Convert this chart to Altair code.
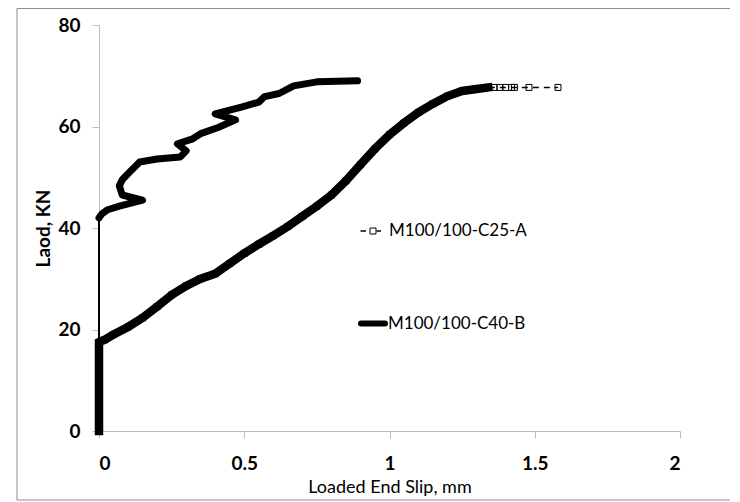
import altair as alt
import pandas as pd

# ---- data ----
series_names = ["M100/100-C25-A", "M100/100-C40-B"]

a_slip = [0, 0, 0.02, 0.05, 0.10, 0.15, 0.20, 0.25, 0.30, 0.35, 0.40, 0.45, 0.50,
          0.55, 0.60, 0.65, 0.70, 0.75, 0.80, 0.85, 0.90, 0.95, 1.00, 1.05, 1.10,
          1.15, 1.20, 1.25, 1.30, 1.34, 1.36, 1.38, 1.40, 1.42, 1.43, 1.48, 1.58]
a_load = [0, 17.5, 18.0, 19.0, 20.5, 22.3, 24.5, 26.8, 28.6, 30.0, 31.0, 33.0, 35.0,
          36.8, 38.5, 40.3, 42.3, 44.3, 46.5, 49.3, 52.5, 55.6, 58.4, 60.7, 62.8,
          64.5, 66.0, 67.0, 67.4, 67.7, 67.7, 67.7, 67.7, 67.7, 67.7, 67.7, 67.7]
A_DENSE_END = 1.34  # up to here the markers overlap into a solid band

b_slip = [0, 0, 0.01, 0.03, 0.07, 0.15, 0.08, 0.07, 0.08, 0.11, 0.14, 0.20, 0.28,
          0.30, 0.27, 0.32, 0.35, 0.41, 0.47, 0.40, 0.49, 0.55, 0.57, 0.62, 0.67,
          0.75, 0.89]
b_load = [0, 42.0, 42.8, 43.6, 44.3, 45.5, 46.5, 48.3, 49.5, 51.3, 53.0, 53.6, 54.0,
          55.2, 56.6, 57.5, 58.6, 59.8, 61.3, 62.5, 63.8, 64.8, 65.9, 66.5, 68.0,
          68.8, 69.0]

x_ticks = [0, 0.5, 1, 1.5, 2]
y_ticks = [0, 20, 40, 60, 80]

df_a = pd.DataFrame({"slip": a_slip, "load": a_load, "i": range(len(a_slip))})
df_b = pd.DataFrame({"slip": b_slip, "load": b_load, "i": range(len(b_slip))})
df_a_dense = df_a[df_a["slip"] <= A_DENSE_END]
df_b_thick = df_b.iloc[1:]

FONT = "Lato"
W, H = 581, 406

x_enc = alt.X("slip:Q", scale=alt.Scale(domain=[0, 2], nice=False),
              axis=alt.Axis(values=x_ticks, format=".1~f", title="Loaded End Slip, mm",
                            labelFont=FONT, labelFontWeight="bold", labelFontSize=19,
                            labelColor="black", labelBaseline="middle", labelPadding=25,
                            titleFont=FONT, titleFontSize=18, titleFontWeight="normal",
                            titleColor="black", titleBaseline="middle", titleY=56,
                            tickSize=7, tickColor="#bdbdbd", domainColor="#bdbdbd",
                            grid=False))
y_enc = alt.Y("load:Q", scale=alt.Scale(domain=[0, 80], nice=False),
              axis=alt.Axis(values=y_ticks, format="d", title="Laod, KN",
                            labelFont=FONT, labelFontWeight="bold", labelFontSize=19,
                            labelColor="black", labelPadding=12,
                            titleFont=FONT, titleFontSize=19, titleFontWeight="bold",
                            titleColor="black", titleX=-56, titleY=H / 2,
                            titleAngle=-90, titleAlign="center", titleBaseline="middle",
                            tickSize=7, tickColor="#bdbdbd", domainColor="#bdbdbd",
                            grid=False))
order = alt.Order("i:Q")

frame = alt.Chart(alt.Data(values=[{}])).mark_rect(
    fill="white", fillOpacity=0, stroke="#8c8c8c", strokeWidth=1
).encode(x=alt.value(-82), x2=alt.value(720), y=alt.value(-16.5), y2=alt.value(475))

a_band = alt.Chart(df_a_dense).mark_line(color="black", strokeWidth=8.5,
                                         strokeCap="square").encode(
    x=x_enc, y=y_enc, order=order)
a_dash = alt.Chart(df_a).mark_line(color="black", strokeWidth=1.5, strokeDash=[6, 5]).encode(
    x=x_enc, y=y_enc, order=order)
a_pts = alt.Chart(df_a).mark_point(shape="square", size=36, filled=False,
                                   color="black", strokeWidth=1, opacity=1).encode(
    x=x_enc, y=y_enc)
b_thin = alt.Chart(df_b).mark_line(color="black", strokeWidth=2).encode(
    x=x_enc, y=y_enc, order=order)
b_thick = alt.Chart(df_b_thick).mark_line(color="black", strokeWidth=7,
                                          strokeJoin="round", strokeCap="round").encode(
    x=x_enc, y=y_enc, order=order)

# ---- manual legend ----
leg_a_text = alt.Chart(alt.Data(values=[{"name": series_names[0]}])).mark_text(
    align="left", baseline="middle", font=FONT, fontSize=17, color="black"
).encode(x=alt.value(290), y=alt.value(206), text="name:N")
leg_b_text = alt.Chart(alt.Data(values=[{"name": series_names[1]}])).mark_text(
    align="left", baseline="middle", font=FONT, fontSize=17, color="black"
).encode(x=alt.value(289), y=alt.value(299), text="name:N")
leg_a_dash1 = alt.Chart(alt.Data(values=[{}])).mark_rule(color="black", strokeWidth=1.5).encode(
    x=alt.value(261.5), x2=alt.value(267), y=alt.value(206))
leg_a_dash2 = alt.Chart(alt.Data(values=[{}])).mark_rule(color="black", strokeWidth=1.5).encode(
    x=alt.value(277.5), x2=alt.value(282), y=alt.value(206))
leg_a_sq = alt.Chart(alt.Data(values=[{}])).mark_point(
    shape="square", size=36, filled=False, color="black", strokeWidth=1, opacity=1
).encode(x=alt.value(274), y=alt.value(206))
leg_b_line = alt.Chart(alt.Data(values=[{}])).mark_rule(
    color="black", strokeWidth=6, strokeCap="round").encode(
    x=alt.value(262), x2=alt.value(286), y=alt.value(298.5))

chart = alt.layer(
    frame, a_band, a_dash, a_pts, b_thin, b_thick,
    leg_a_dash1, leg_a_dash2, leg_a_sq, leg_a_text, leg_b_line, leg_b_text
).properties(
    width=W, height=H,
    autosize=alt.AutoSizeParams(type="none"),
    padding={"left": 91, "top": 17, "right": 50, "bottom": 70},
    background="white",
).configure_view(stroke=None)

chart.save("out.html", embed_options={"renderer": "svg", "actions": False})
